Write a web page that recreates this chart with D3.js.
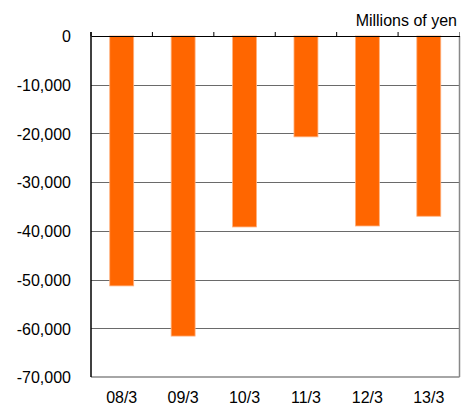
<!DOCTYPE html>
<html><head><meta charset="utf-8">
<script src="https://cdn.jsdelivr.net/npm/d3@7"></script>
<style>
html,body{margin:0;padding:0;background:#fff;}
text{font-family:Arial,"Liberation Sans",sans-serif;fill:#000;}
</style></head>
<body>
<svg id="c" width="462" height="404"></svg>
<script>
const categories = ["08/3","09/3","10/3","11/3","12/3","13/3"];
const values = [-51300,-61600,-39200,-20700,-39000,-37000];
const yTicks = [0,-10000,-20000,-30000,-40000,-50000,-60000,-70000];
const unitLabel = "Millions of yen";

const svg = d3.select("#c");
const L = 91, R = 459.5, T = 36, B = 377;
const FS = 16;
const x = d3.scaleBand().domain(categories).range([L, R]).padding(0);
const y = d3.scaleLinear().domain([0, -70000]).range([T, B]);
const fmt = d => d3.format(",")(d).replace("\u2212", "-");

// gridlines
svg.append("g").selectAll("line").data(yTicks.filter(d => d !== 0 && d !== -70000)).join("line")
  .attr("x1", L).attr("x2", R)
  .attr("y1", d => Math.round(y(d)) + 0.5).attr("y2", d => Math.round(y(d)) + 0.5)
  .attr("stroke", "#6a6a6a").attr("stroke-width", 1);

// bars
const bw = x.bandwidth() * 0.39;
svg.append("g").selectAll("rect").data(categories).join("rect")
  .attr("x", (d,i) => x(d) + x.bandwidth()/2 - bw/2)
  .attr("y", (d,i) => y(0))
  .attr("width", bw)
  .attr("height", (d,i) => y(values[i]) - y(0))
  .attr("fill", "#FF6600")
  .attr("stroke", "#FFB27F").attr("stroke-width", 0.8);

// right border
svg.append("line").attr("x1", R).attr("x2", R).attr("y1", T).attr("y2", B)
  .attr("stroke", "#888").attr("stroke-width", 1.5);
// bottom line
svg.append("line").attr("x1", L).attr("x2", R).attr("y1", B).attr("y2", B)
  .attr("stroke", "#888").attr("stroke-width", 1.5);

// top axis at zero with upward ticks at band boundaries
const topAxis = d3.axisTop(x).tickSize(0).tickFormat("");
const gt = svg.append("g").attr("transform", `translate(0,${y(0)})`).call(topAxis);
gt.select(".domain").attr("stroke", "#000").attr("stroke-width", 1.2);
const bounds = categories.map(c => x(c)).concat([R]);
svg.append("g").selectAll("line").data(bounds).join("line")
  .attr("x1", d => d).attr("x2", d => d).attr("y1", y(0) - 4).attr("y2", y(0))
  .attr("stroke", (d,i) => i === bounds.length-1 ? "#888" : "#000").attr("stroke-width", 1);

// left axis
const ly = d3.axisLeft(y).tickValues(yTicks).tickSize(0).tickPadding(20).tickFormat(fmt);
const gl = svg.append("g").attr("transform", `translate(${L},0)`).call(ly);
gl.select(".domain").remove();
svg.append("line").attr("x1", L).attr("x2", L).attr("y1", y(0) - 4).attr("y2", B)
  .attr("stroke", "#000").attr("stroke-width", 1.5);
gl.selectAll("text").attr("font-size", FS).attr("font-family", "Arial, 'Liberation Sans', sans-serif")
  .attr("fill", "#000").attr("dy", "0.36em");

// x labels
svg.append("g").selectAll("text").data(categories).join("text")
  .attr("x", d => x(d) + x.bandwidth()/2).attr("y", 402.5)
  .attr("text-anchor", "middle").attr("font-size", FS).text(d => d);

// unit label
svg.append("text").attr("x", 457).attr("y", 26).attr("text-anchor", "end")
  .attr("font-size", FS).text(unitLabel);
</script>
</body></html>
